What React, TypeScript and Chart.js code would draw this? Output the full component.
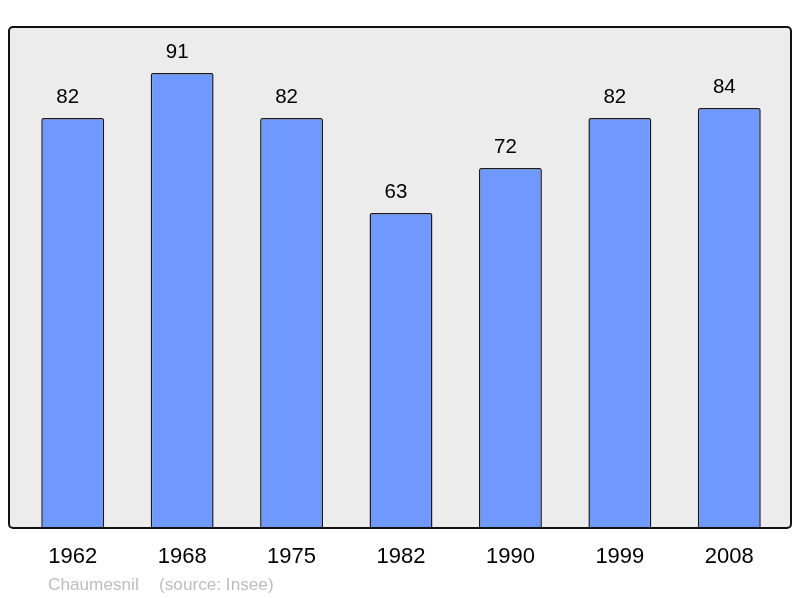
import React, { useEffect, useRef } from "react";
import { Chart, registerables } from "chart.js";

Chart.register(...registerables);

const years = ["1962", "1968", "1975", "1982", "1990", "1999", "2008"];
const population = [82, 91, 82, 63, 72, 82, 84];
const place = "Chaumesnil";
const source = "(source: Insee)";

const FONT = '"Liberation Sans", Arial, sans-serif';

const decorPlugin = {
  id: "decor",
  beforeDatasetsDraw(chart: any) {
    const { ctx, chartArea } = chart;
    const l = chartArea.left - 9, r = chartArea.right + 7, t = chartArea.top - 1, b = chartArea.bottom;
    ctx.save();
    ctx.fillStyle = "#ececec";
    ctx.beginPath();
    ctx.roundRect(l, t, r - l, b - t, 4);
    ctx.fill();
    ctx.restore();
  },
  afterDatasetsDraw(chart: any) {
    const { ctx, chartArea } = chart;
    const l = chartArea.left - 9, r = chartArea.right + 7, t = chartArea.top - 1, b = chartArea.bottom;
    ctx.save();
    ctx.strokeStyle = "#111";
    ctx.lineWidth = 2;
    ctx.beginPath();
    ctx.roundRect(l, t, r - l, b - t, 4);
    ctx.stroke();

    const xs = chart.scales.x;
    const ys = chart.scales.y;
    ctx.fillStyle = "#000";
    ctx.textAlign = "center";
    ctx.textBaseline = "middle";
    ctx.font = `20.5px ${FONT}`;
    population.forEach((v, i) => {
      ctx.fillText(String(v), xs.getPixelForValue(i) - 5, ys.getPixelForValue(v) - 21);
    });
    ctx.font = `22px ${FONT}`;
    years.forEach((y, i) => {
      ctx.fillText(y, xs.getPixelForValue(i), 557);
    });
    ctx.fillStyle = "#bdbdbd";
    ctx.textAlign = "left";
    ctx.font = `17.2px ${FONT}`;
    ctx.fillText(place, 48, 585);
    ctx.fillText(source, 159, 585);
    ctx.restore();
  },
};

export default function App() {
  const ref = useRef<HTMLCanvasElement>(null);
  useEffect(() => {
    const chart = new Chart(ref.current!, {
      type: "bar",
      data: {
        labels: years,
        datasets: [
          {
            data: population,
            backgroundColor: "#7099ff",
            borderColor: "#1a1a1a",
            borderWidth: 1.5,
            borderSkipped: "bottom",
            borderRadius: { topLeft: 2, topRight: 2, bottomLeft: 0, bottomRight: 0 },
            barPercentage: 0.575,
            categoryPercentage: 1,
          },
        ],
      },
      options: {
        animation: false,
        responsive: false,
        layout: { padding: { left: 18, right: 16, top: 28, bottom: 70 } },
        plugins: { legend: { display: false }, tooltip: { enabled: false } },
        scales: {
          x: { display: false },
          y: { display: false, min: 0, max: 100 },
        },
      },
      plugins: [decorPlugin],
    });
    return () => chart.destroy();
  }, []);
  return (
    <div style={{ position: "fixed", left: 0, top: 0, width: 800, height: 598, background: "#fff" }}>
      <canvas ref={ref} width={800} height={598} style={{ width: 800, height: 598 }} />
    </div>
  );
}
